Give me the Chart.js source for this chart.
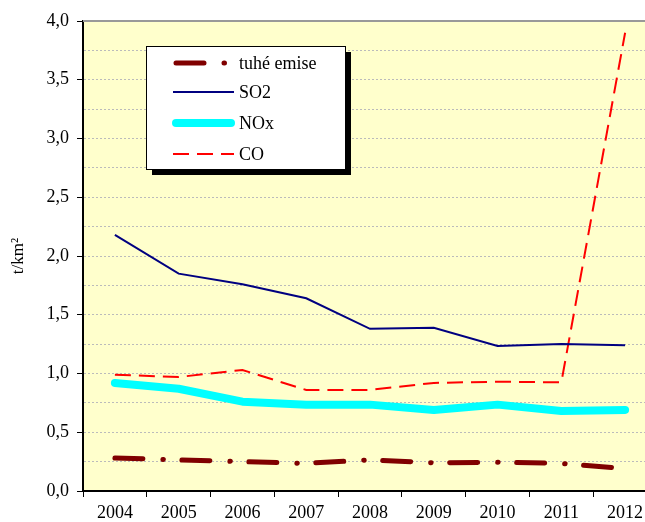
<!DOCTYPE html>
<html>
<head>
<meta charset="utf-8">
<script src="https://cdn.jsdelivr.net/npm/chart.js@4.4.1/dist/chart.umd.min.js"></script>
<style>
  html, body { margin: 0; padding: 0; background: #fff; overflow: hidden; }
  #wrap { width: 660px; height: 522px; }
</style>
</head>
<body>
<div id="wrap"><canvas id="chart" width="660" height="522"></canvas></div>
<script>
// Years on the x axis
const years = ['2004', '2005', '2006', '2007', '2008', '2009', '2010', '2011', '2012'];

// Emissions, t/km2
const tuheEmise = [0.28, 0.265, 0.25, 0.235, 0.265, 0.24, 0.245, 0.235, 0.19];
const so2 = [2.18, 1.85, 1.76, 1.64, 1.38, 1.39, 1.235, 1.25, 1.24];
const nox = [0.92, 0.87, 0.76, 0.735, 0.735, 0.69, 0.735, 0.68, 0.69];
const co = [0.99, 0.97, 1.03, 0.86, 0.86, 0.92, 0.93, 0.925, 3.9];

const serif = '"Liberation Serif", "Times New Roman", serif';

const dashDot = [28, 20, 0.5, 18.5];
const coDash = [16, 8];

// Yellow plot background and gray top line
const plotBackground = {
  id: 'plotBackground',
  beforeDraw(chart) {
    const { ctx, chartArea: a } = chart;
    ctx.save();
    ctx.fillStyle = '#FFFFCC';
    ctx.fillRect(a.left, a.top, a.right - a.left, a.bottom - a.top);
    ctx.restore();
  },
  afterDraw(chart) {
    const { ctx, chartArea: a } = chart;
    ctx.save();
    ctx.strokeStyle = '#999999';
    ctx.lineWidth = 2;
    ctx.beginPath();
    ctx.moveTo(a.left, a.top);
    ctx.lineTo(a.right, a.top);
    ctx.stroke();
    ctx.restore();
  }
};

// Boxed legend with a drop shadow, like the Excel original
const boxLegend = {
  id: 'boxLegend',
  afterDraw(chart) {
    const ctx = chart.ctx;
    const x = 146, y = 46, w = 199, h = 123;
    ctx.save();
    ctx.fillStyle = '#000';
    ctx.fillRect(x + 6, y + 6, w, h);
    ctx.fillStyle = '#fff';
    ctx.fillRect(x, y, w, h);
    ctx.strokeStyle = '#000';
    ctx.lineWidth = 1;
    ctx.strokeRect(x + 0.5, y + 0.5, w, h);

    const rows = [63, 92, 123, 154];
    chart.data.datasets.forEach((ds, i) => {
      const ry = rows[i];
      ctx.save();
      ctx.strokeStyle = ds.borderColor;
      ctx.lineWidth = ds.borderWidth;
      ctx.lineCap = ds.borderCapStyle || 'butt';
      ctx.setLineDash(ds.borderDash || []);
      ctx.beginPath();
      const x0 = ds.borderWidth > 4 ? 176 : 173;
      const x1 = ds.borderWidth > 4 ? 231 : 234;
      ctx.moveTo(x0, ry);
      ctx.lineTo(i === 0 ? 226 : x1, ry);
      ctx.stroke();
      ctx.restore();
      ctx.fillStyle = '#000';
      ctx.font = '18px ' + serif;
      ctx.textBaseline = 'middle';
      ctx.fillText(ds.label, 239, ry + 1);
    });
    ctx.restore();
  }
};

const ctx = document.getElementById('chart').getContext('2d');

const chart = new Chart(ctx, {
  type: 'line',
  data: {
    labels: years,
    datasets: [
      {
        label: 'tuhé emise',
        data: tuheEmise,
        borderColor: '#800000',
        borderWidth: 5,
        borderDash: dashDot,
        borderCapStyle: 'round',
        pointRadius: 0,
        tension: 0
      },
      {
        label: 'SO2',
        data: so2,
        borderColor: '#000080',
        borderWidth: 2,
        pointRadius: 0,
        tension: 0
      },
      {
        label: 'NOx',
        data: nox,
        borderColor: '#00FFFF',
        borderWidth: 8,
        borderCapStyle: 'round',
        borderJoinStyle: 'round',
        pointRadius: 0,
        tension: 0
      },
      {
        label: 'CO',
        data: co,
        borderColor: '#FF0000',
        borderWidth: 2,
        borderDash: coDash,
        pointRadius: 0,
        tension: 0
      }
    ]
  },
  options: {
    responsive: false,
    animation: false,
    layout: {
      padding: { top: 21, right: 3, left: 0, bottom: 0 }
    },
    plugins: {
      legend: { display: false },
      tooltip: { enabled: false }
    },
    scales: {
      x: {
        offset: true,
        grid: {
          offset: true,
          drawOnChartArea: false,
          tickLength: 6,
          tickColor: '#000',
          tickWidth: 1
        },
        border: { color: '#000', width: 2 },
        ticks: {
          color: '#000',
          padding: 5,
          maxRotation: 0,
          font: { family: serif, size: 18 }
        },
        afterFit(scale) { scale.height = 31; }
      },
      y: {
        min: 0,
        max: 4,
        grid: {
          color: (c) => (c.tick && (c.tick.value === 0 || c.tick.value === 4)) ? 'rgba(0,0,0,0)' : '#BBBBBB',
          lineWidth: 1,
          tickLength: 6,
          tickColor: (c) => (c.tick && Math.abs(c.tick.value * 2 - Math.round(c.tick.value * 2)) < 1e-6) ? '#000' : 'rgba(0,0,0,0)'
        },
        border: { color: '#000', width: 2, dash: [2, 2] },
        ticks: {
          stepSize: 0.25,
          color: '#000',
          padding: 8,
          autoSkip: false,
          font: { family: serif, size: 18 },
          callback: (v) => {
            if (Math.abs(v * 2 - Math.round(v * 2)) > 1e-6) return '';
            return v.toFixed(1).replace('.', ',');
          }
        },
        title: {
          display: true,
          text: 't/km²',
          color: '#000',
          font: { family: serif, size: 17 },
          padding: { top: 8, bottom: 0 }
        },
        afterFit(scale) { scale.width = 83; }
      }
    }
  },
  plugins: [plotBackground, boxLegend]
});
</script>
</body>
</html>
